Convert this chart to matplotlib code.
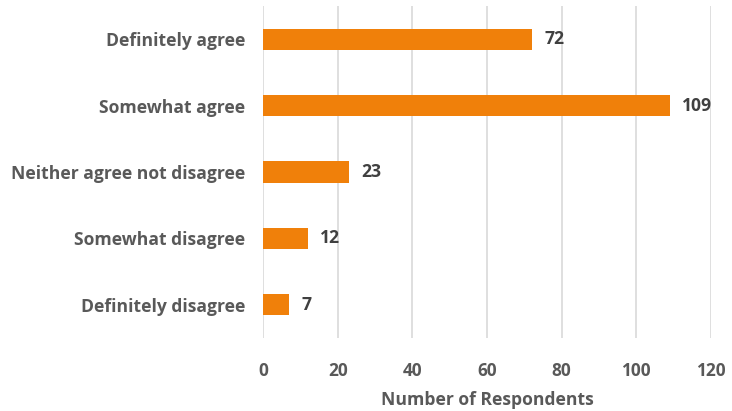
import matplotlib
matplotlib.use('Agg')
import matplotlib.pyplot as plt
import numpy as np

# data
categories = ['Definitely agree', 'Somewhat agree', 'Neither agree not disagree',
              'Somewhat disagree', 'Definitely disagree']
respondents = [72, 109, 23, 12, 7]
xticks = [0, 20, 40, 60, 80, 100, 120]

plt.rcParams['font.family'] = ['Open Sans', 'DejaVu Sans']

fig = plt.figure(figsize=(7.32, 4.11), dpi=100)
ax = fig.add_axes([263/732, 1 - 338/411, 448/732, 332/411])

y = np.arange(len(categories))
bars = ax.barh(y, respondents, height=0.32, color='#F0800A', zorder=3)

ax.set_xlim(0, 120)
ax.set_ylim(len(categories) - 0.5, -0.5)
ax.set_xticks(xticks)
ax.set_xticklabels([str(t) for t in xticks])
ax.set_yticks(y)
ax.set_yticklabels(categories, fontweight='bold', fontsize=12.6, color='#595959')
ax.tick_params(axis='x', length=0, pad=17, labelsize=12.4, labelcolor='#595959')
ax.tick_params(axis='y', length=0, pad=13)
for lbl in ax.get_xticklabels():
    lbl.set_fontweight('bold')

ax.grid(axis='x', color='#D9D9D9', linewidth=1.2, zorder=0)
for s in ax.spines.values():
    s.set_visible(False)

ax.set_xlabel('Number of Respondents', fontsize=12.6, fontweight='bold',
              color='#595959', labelpad=8)

# value labels
for rect, v in zip(bars, respondents):
    ax.annotate(str(v), xy=(rect.get_width(), rect.get_y() + rect.get_height() / 2),
                xytext=(9, 0), textcoords='offset points', ha='left', va='center',
                fontsize=12.6, fontweight='bold', color='#404040')

fig.savefig('out.png', dpi=100)
